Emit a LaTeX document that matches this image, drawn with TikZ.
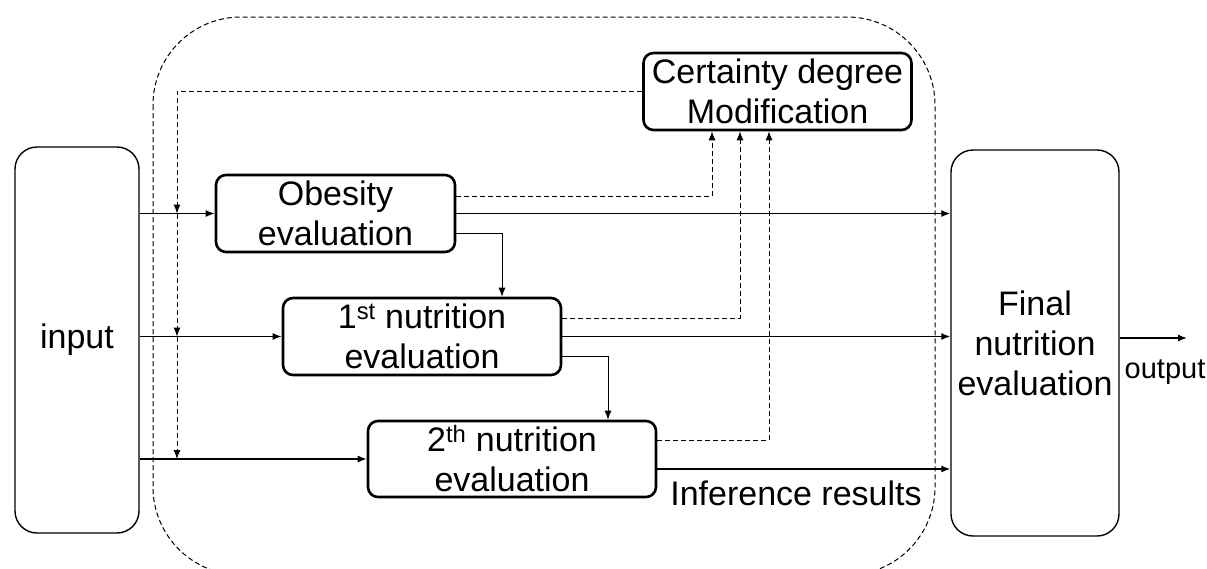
\documentclass[tikz,border=0pt]{standalone}
\usepackage{fontspec}
\setmainfont{Liberation Sans}
\usetikzlibrary{arrows.meta}
\begin{document}
\begin{tikzpicture}[x=1pt,y=-1pt,
  lbl/.style={font=\fontsize{34}{40}\selectfont, align=center, inner sep=0pt},
  unit/.style={draw, line width=2.6pt, rounded corners=10pt, lbl},
  io/.style={draw, line width=1.4pt, rounded corners=22pt, lbl},
  flow/.style={line width=1.3pt, -{Latex[length=9pt,width=7pt]}},
  thinflow/.style={line width=0.9pt, -{Latex[length=9pt,width=7pt]}},
  fb/.style={line width=1pt, dash pattern=on 5pt off 3pt, -{Latex[length=9pt,width=7pt]}},
  region/.style={line width=1pt, dash pattern=on 5pt off 3pt, rounded corners=88pt}
]
\useasboundingbox (0,0) rectangle (1207,568);
\begin{scope}
  \clip (0,0) rectangle (1207,568);
  \draw[region] (153,17) rectangle (935,575);
\end{scope}

\node[io, minimum width=124pt, minimum height=386pt] (in) at (77,340) {input};
\node[io, minimum width=168pt, minimum height=386pt] (fin) at (1035,343) {Final\\nutrition\\evaluation};
\node[unit, minimum width=239pt, minimum height=77pt] (ob) at (335.5,213.5) {Obesity\\evaluation};
\node[unit, minimum width=278pt, minimum height=77pt] (n1) at (422,336.5) {1\textsuperscript{st} nutrition\\evaluation};
\node[unit, minimum width=288pt, minimum height=76pt] (n2) at (512,459) {2\textsuperscript{th} nutrition\\evaluation};
\node[unit, minimum width=268pt, minimum height=77pt] (cd) at (777.5,91.5) {Certainty degree\\Modification};

% feedback from certainty degree modification
\coordinate (fbx) at (177,0);
\draw[fb] (cd.west) -| (fbx |- ob.west);
\draw[fb] (fbx |- ob.west) -- (fbx |- n1.west);
\draw[fb] (fbx |- n1.west) -- (fbx |- n2.west);

% input arrows
\draw[flow] (in.east |- ob.west) -- (ob.west);
\draw[flow] (in.east |- n1.west) -- (n1.west);
\draw[flow] (in.east |- n2.west) -- (n2.west);

% outputs to final
\coordinate (n2o) at ([yshift=-10pt]n2.east);
\draw[flow] (ob.east) -- (fin.west |- ob.east);
\draw[flow] (n1.east) -- (fin.west |- n1.east);
\draw[flow] (n2o) -- (fin.west |- n2o);

% to certainty degree
\coordinate (ob2) at ([yshift=17.5pt]ob.east);
\coordinate (c1) at ([xshift=-65.5pt]cd.south);
\draw[fb] (ob2) -| (c1);
\coordinate (n12) at ([yshift=18.5pt]n1.east);
\coordinate (c2) at ([xshift=-37.5pt]cd.south);
\draw[fb] (n12) -| (c2);
\coordinate (n22) at ([yshift=19pt]n2.east);
\coordinate (c3) at ([xshift=-8.5pt]cd.south);
\draw[fb] (n22) -| (c3);

% cascade
\coordinate (ob3) at ([yshift=-19.5pt]ob.east);
\draw[thinflow] (ob3) -| ([xshift=80pt]n1.north);
\coordinate (n13) at ([yshift=-19.5pt]n1.east);
\draw[thinflow] (n13) -| ([xshift=96pt]n2.north);

% output
\coordinate (outp) at (1187,338);
\draw[flow] (fin.east |- outp) -- (outp);
\node[font=\fontsize{29}{34}\selectfont, inner sep=0pt] (outl) at (1165,372) {output};
\node[lbl] (inf) at (796,493) {Inference results};
\end{tikzpicture}
\end{document}
